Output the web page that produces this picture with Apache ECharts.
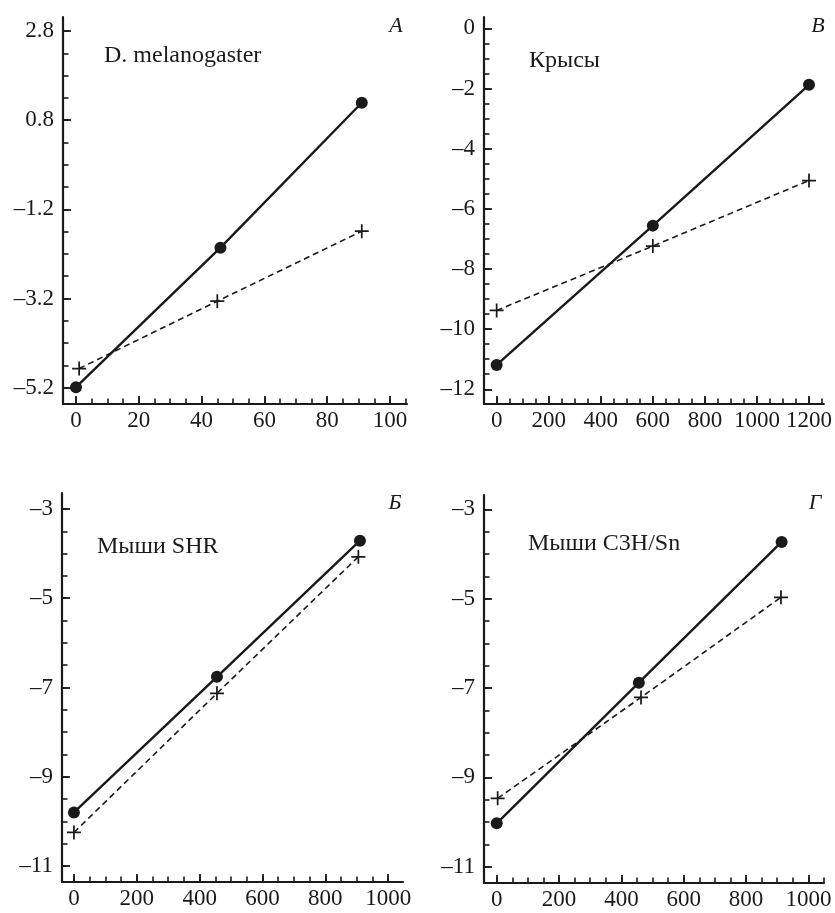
<!DOCTYPE html>
<html>
<head>
<meta charset="utf-8">
<script src="https://cdn.jsdelivr.net/npm/echarts@6/dist/echarts.min.js"></script>
<style>
  html, body { margin: 0; padding: 0; background: #ffffff; }
  #chart { width: 835px; height: 913px; }
</style>
</head>
<body>
<div id="chart"></div>
<script>
// ---- Panel A: D. melanogaster ----
const aSolidX = [0, 46, 91];
const aSolidY = [-5.19, -2.06, 1.19];
const aCrossX = [1, 45, 91];
const aCrossY = [-4.77, -3.26, -1.69];
const aTicksX = [0, 20, 40, 60, 80, 100];
const aTicksY = [2.8, 0.8, -1.2, -3.2, -5.2];

// ---- Panel B: Крысы ----
const bSolidX = [0, 600, 1200];
const bSolidY = [-11.19, -6.56, -1.88];
const bCrossX = [0, 600, 1200];
const bCrossY = [-9.38, -7.24, -5.06];
const bTicksX = [0, 200, 400, 600, 800, 1000, 1200];
const bTicksY = [0, -2, -4, -6, -8, -10, -12];

// ---- Panel Б: Мыши SHR ----
const vSolidX = [0, 455, 910];
const vSolidY = [-9.80, -6.76, -3.71];
const vCrossX = [0, 455, 905];
const vCrossY = [-10.25, -7.13, -4.07];
const vTicksX = [0, 200, 400, 600, 800, 1000];
const vTicksY = [-3, -5, -7, -9, -11];

// ---- Panel Г: Мыши C3H/Sn ----
const gSolidX = [0, 456, 914];
const gSolidY = [-10.03, -6.88, -3.73];
const gCrossX = [3, 463, 912];
const gCrossY = [-9.47, -7.21, -4.97];
const gTicksX = [0, 200, 400, 600, 800, 1000];
const gTicksY = [-3, -5, -7, -9, -11];

const FONT = '"Liberation Serif", "Times New Roman", serif';
const INK = '#1a1a1a';
const PLUS = 'path://M7,0 H9 V7 H16 V9 H9 V16 H7 V9 H0 V7 H7 Z';

function pairs(xs, ys) { return xs.map((x, i) => [x, ys[i]]); }

// minor tick positions between the majors, stepping from the first major
function minorTicks(start, step, min, max) {
  const out = [];
  const n0 = Math.ceil((min - start) / step - 1e-9);
  const n1 = Math.floor((max - start) / step + 1e-9);
  for (let n = n0; n <= n1; n++) out.push(+(start + n * step).toFixed(4));
  return out;
}

function tickText(decimals) {
  return v => Number(v).toFixed(decimals).replace('-', '\u2013');
}

const panels = [
  { grid: { left: 63, top: 17, width: 344, height: 387 },
    xMin: -4.14, xMax: 105.4, yMin: -5.566, yMax: 3.114,
    xTicks: aTicksX, yTicks: aTicksY, xStep: 5, yStep: 0.5, yDec: 1,
    solid: pairs(aSolidX, aSolidY), cross: pairs(aCrossX, aCrossY) },
  { grid: { left: 484, top: 17, width: 341, height: 387 },
    xMin: -48.6, xMax: 1257, yMin: -12.49, yMax: 0.376,
    xTicks: bTicksX, yTicks: bTicksY, xStep: 50, yStep: 0.5, yDec: 0,
    solid: pairs(bSolidX, bSolidY), cross: pairs(bCrossX, bCrossY) },
  { grid: { left: 62, top: 493, width: 341, height: 389 },
    xMin: -38, xMax: 1047, yMin: -11.36, yMax: -2.641,
    xTicks: vTicksX, yTicks: vTicksY, xStep: 50, yStep: 0.5, yDec: 0,
    solid: pairs(vSolidX, vSolidY), cross: pairs(vCrossX, vCrossY) },
  { grid: { left: 484, top: 495, width: 340, height: 388 },
    xMin: -40.8, xMax: 1050, yMin: -11.365, yMax: -2.68,
    xTicks: gTicksX, yTicks: gTicksY, xStep: 50, yStep: 0.5, yDec: 0,
    solid: pairs(gSolidX, gSolidY), cross: pairs(gCrossX, gCrossY) }
];

const grids = [], xAxes = [], yAxes = [], series = [];

panels.forEach((p, i) => {
  grids.push(p.grid);
  const labelStyle = { fontFamily: FONT, fontSize: 23, color: INK };

  // main x axis: line, long ticks, labels
  xAxes.push({
    type: 'value', gridIndex: i, position: 'bottom', min: p.xMin, max: p.xMax,
    axisLine: { show: true, onZero: false, lineStyle: { color: INK, width: 2.2 } },
    axisTick: { show: true, inside: true, length: 8, customValues: p.xTicks,
                lineStyle: { color: INK, width: 1.8 } },
    axisLabel: Object.assign({ show: true, margin: 5, customValues: p.xTicks,
                formatter: tickText(0) }, labelStyle),
    splitLine: { show: false }
  });
  // companion x axis: short minor ticks only
  xAxes.push({
    type: 'value', gridIndex: i, position: 'bottom', min: p.xMin, max: p.xMax,
    axisLine: { show: false, onZero: false },
    axisTick: { show: true, inside: true, length: 5.5,
                customValues: minorTicks(p.xTicks[0], p.xStep, p.xMin, p.xMax),
                lineStyle: { color: INK, width: 1.6 } },
    axisLabel: { show: false },
    splitLine: { show: false }
  });
  yAxes.push({
    type: 'value', gridIndex: i, position: 'left', min: p.yMin, max: p.yMax,
    axisLine: { show: true, onZero: false, lineStyle: { color: INK, width: 2.2 } },
    axisTick: { show: true, inside: true, length: 8, customValues: p.yTicks,
                lineStyle: { color: INK, width: 1.8 } },
    axisLabel: Object.assign({ show: true, margin: 9, customValues: p.yTicks,
                formatter: tickText(p.yDec) }, labelStyle),
    splitLine: { show: false }
  });
  yAxes.push({
    type: 'value', gridIndex: i, position: 'left', min: p.yMin, max: p.yMax,
    axisLine: { show: false, onZero: false },
    axisTick: { show: true, inside: true, length: 5.5,
                customValues: minorTicks(p.yTicks[0], p.yStep, p.yMin, p.yMax),
                lineStyle: { color: INK, width: 1.6 } },
    axisLabel: { show: false },
    splitLine: { show: false }
  });

  series.push({
    type: 'line', xAxisIndex: 2 * i, yAxisIndex: 2 * i, data: p.cross,
    symbol: PLUS, symbolSize: 14, showAllSymbol: true, z: 3,
    itemStyle: { color: INK },
    lineStyle: { color: INK, width: 1.6, type: [6, 4] }
  });
  series.push({
    type: 'line', xAxisIndex: 2 * i, yAxisIndex: 2 * i, data: p.solid,
    symbol: 'circle', symbolSize: 12, showAllSymbol: true, z: 4,
    itemStyle: { color: INK, borderWidth: 0 },
    lineStyle: { color: INK, width: 2.4 }
  });
});

function caption(text, x, y) {
  return { type: 'text', x: x, y: y, silent: true,
           style: { text: text, fill: INK, font: '24px ' + FONT, textVerticalAlign: 'middle' } };
}
function letter(text, x, y) {
  return { type: 'text', x: x, y: y, silent: true,
           style: { text: text, fill: INK, font: 'italic 22px ' + FONT,
                    textAlign: 'center', textVerticalAlign: 'middle' } };
}

const chart = echarts.init(document.getElementById('chart'), null, { renderer: 'canvas' });
chart.setOption({
  animation: false,
  backgroundColor: '#ffffff',
  grid: grids,
  xAxis: xAxes,
  yAxis: yAxes,
  series: series,
  graphic: [
    caption('D. melanogaster', 104, 56),
    caption('Крысы', 529, 61),
    caption('Мыши SHR', 97, 547),
    caption('Мыши C3H/Sn', 528, 544),
    letter('A', 396, 26),
    letter('B', 818, 26),
    letter('Б', 395, 503),
    letter('Г', 815, 503)
  ]
});
</script>
</body>
</html>
